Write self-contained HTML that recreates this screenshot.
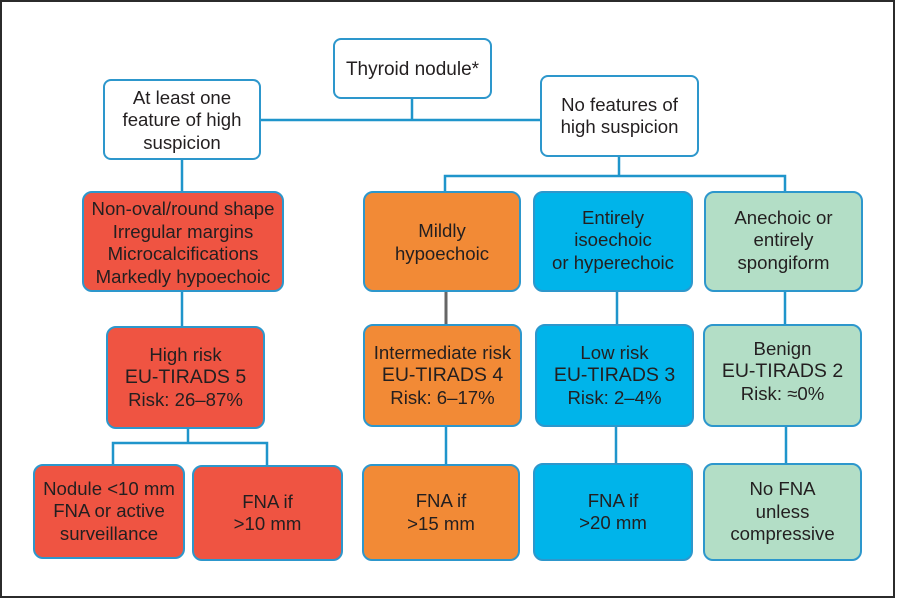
<!DOCTYPE html>
<html><head><meta charset="utf-8"><style>
html,body{margin:0;padding:0;background:#fff;}
#c{position:relative;width:897px;height:600px;overflow:hidden;background:#fff;font-family:"Liberation Sans",sans-serif;color:#231f20;}
#frame{position:absolute;left:0;top:0;width:895px;height:598px;box-sizing:border-box;border:2px solid #2b2b2b;}
.b{position:absolute;box-sizing:border-box;border:2px solid #2d97cc;border-radius:10px;display:flex;flex-direction:column;justify-content:center;align-items:center;text-align:center;font-size:18.6px;line-height:22.5px;white-space:nowrap;}
.w{background:#fff;border-radius:8px;}
.r{background:#ef5442;}
.o{background:#f28a36;}
.bl{background:#00b4ea;}
.g{background:#b3dec6;}
.big{font-size:19.5px;line-height:23px;}
svg{position:absolute;left:0;top:0;}
</style></head><body>
<div id="c">
<div id="frame"></div>
<svg width="897" height="600">
<g stroke="#1f95cb" stroke-width="2.5" fill="none">
<line x1="412" y1="99" x2="412" y2="120"/>
<line x1="261" y1="120" x2="540" y2="120"/>
<line x1="182" y1="160" x2="182" y2="191"/>
<line x1="619" y1="157" x2="619" y2="176"/>
<polyline points="445,191 445,176 785,176 785,191"/>
<line x1="182" y1="292" x2="182" y2="326"/>
<line x1="617" y1="292" x2="617" y2="324"/>
<line x1="785" y1="292" x2="785" y2="324"/>
<line x1="188" y1="429" x2="188" y2="443"/>
<polyline points="113,464 113,443 267,443 267,465"/>
<line x1="446" y1="427" x2="446" y2="464"/>
<line x1="616" y1="427" x2="616" y2="463"/>
<line x1="786" y1="427" x2="786" y2="463"/>
</g>
<line x1="446" y1="292" x2="446" y2="324" stroke="#666" stroke-width="3"/>
</svg>

<div class="b w" style="left:333px;top:38px;width:159px;height:61px;font-size:19px;padding-top:4px;"><div>Thyroid nodule*</div></div>
<div class="b w" style="left:103px;top:79px;width:158px;height:81px;padding-top:2px;"><div>At least one</div><div>feature of high</div><div>suspicion</div></div>
<div class="b w" style="left:540px;top:75px;width:159px;height:82px;"><div>No features of</div><div>high suspicion</div></div>

<div class="b r" style="left:82px;top:191px;width:202px;height:101px;padding-top:3px;"><div>Non-oval/round shape</div><div>Irregular margins</div><div>Microcalcifications</div><div>Markedly hypoechoic</div></div>
<div class="b o" style="left:363px;top:191px;width:158px;height:101px;padding-top:2px;"><div>Mildly</div><div>hypoechoic</div></div>
<div class="b bl" style="left:533px;top:191px;width:160px;height:101px;padding-bottom:2px;"><div>Entirely</div><div>isoechoic</div><div>or hyperechoic</div></div>
<div class="b g" style="left:704px;top:191px;width:159px;height:101px;padding-bottom:2px;"><div>Anechoic or</div><div>entirely</div><div>spongiform</div></div>

<div class="b r" style="left:106px;top:326px;width:159px;height:103px;"><div>High risk</div><div class="big">EU-TIRADS 5</div><div>Risk: 26–87%</div></div>
<div class="b o" style="left:363px;top:324px;width:159px;height:103px;"><div>Intermediate risk</div><div class="big">EU-TIRADS 4</div><div>Risk: 6–17%</div></div>
<div class="b bl" style="left:535px;top:324px;width:159px;height:103px;"><div>Low risk</div><div class="big">EU-TIRADS 3</div><div>Risk: 2–4%</div></div>
<div class="b g" style="left:703px;top:324px;width:159px;height:103px;padding-bottom:8px;"><div>Benign</div><div class="big">EU-TIRADS 2</div><div>Risk: ≈0%</div></div>

<div class="b r" style="left:33px;top:464px;width:152px;height:95px;"><div>Nodule &lt;10 mm</div><div>FNA or active</div><div>surveillance</div></div>
<div class="b r" style="left:192px;top:465px;width:151px;height:96px;"><div>FNA if</div><div>&gt;10 mm</div></div>
<div class="b o" style="left:362px;top:464px;width:158px;height:97px;"><div>FNA if</div><div>&gt;15 mm</div></div>
<div class="b bl" style="left:533px;top:463px;width:160px;height:98px;"><div>FNA if</div><div>&gt;20 mm</div></div>
<div class="b g" style="left:703px;top:463px;width:159px;height:98px;"><div>No FNA</div><div>unless</div><div>compressive</div></div>
</div>
</body></html>
